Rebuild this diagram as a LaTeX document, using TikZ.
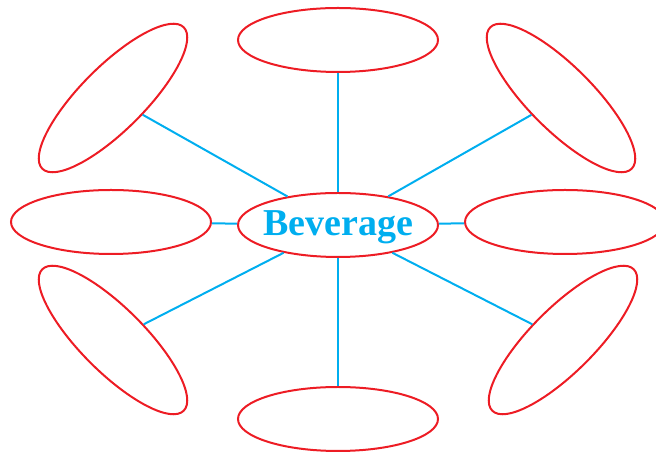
\documentclass[tikz,border=0pt]{standalone}
\usepackage{fontspec}
\setmainfont{Liberation Serif}
\usetikzlibrary{shapes.geometric}
\definecolor{bubblered}{RGB}{237,28,36}
\definecolor{linkcyan}{RGB}{0,174,239}

\begin{document}
\begin{tikzpicture}[x=1pt, y=1pt, bubble/.style={ellipse, draw=bubblered, line width=2pt, minimum width=200pt, minimum height=64pt, inner sep=0pt}, link/.style={draw=linkcyan, line width=2pt}]
\useasboundingbox (0,0) rectangle (656,454);
\node (bev) [bubble] at (338,229) {};
\node (bevtxt) at ([yshift=-2pt]bev.center) {\fontsize{38}{40}\selectfont\bfseries\color{linkcyan}Beverage};
\node (top) [bubble] at (338,414) {};
\node (bottom) [bubble] at (338,35) {};
\node (left) [bubble] at (111,232) {};
\node (right) [bubble] at (565,232) {};
\node (topleft) [bubble, rotate=45] at (113,356) {};
\node (topright) [bubble, rotate=-45] at (561,356) {};
\node (botleft) [bubble, rotate=-45] at (113,114) {};
\node (botright) [bubble, rotate=45] at (563,114) {};
\draw[link] (bev) -- (top);
\draw[link] (bev) -- (bottom);
\draw[link] (bev) -- (left);
\draw[link] (bev) -- (right);
\draw[link] (bev) -- (topleft);
\draw[link] (bev) -- (topright);
\draw[link] (bev) -- (botleft);
\draw[link] (bev) -- (botright);
\end{tikzpicture}
\end{document}
